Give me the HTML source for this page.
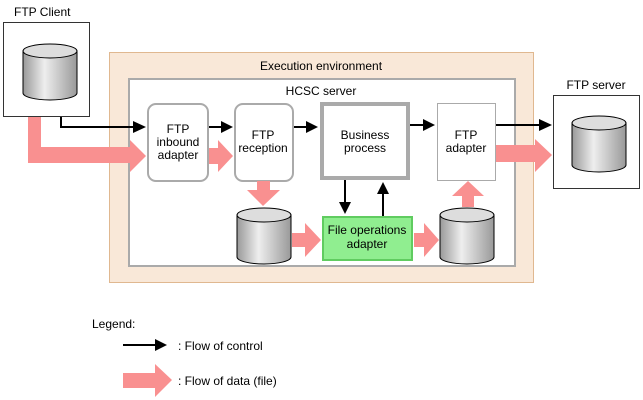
<!DOCTYPE html>
<html><head><meta charset="utf-8"><style>
html,body{margin:0;padding:0;background:#fff;}
svg{display:block;font-family:"Liberation Sans",sans-serif;font-size:12px;}
</style></head><body>
<svg width="643" height="400" viewBox="0 0 643 400" xmlns="http://www.w3.org/2000/svg">
<defs>
<linearGradient id="cg" x1="0" x2="1" y1="0" y2="0">
<stop offset="0" stop-color="#999"/><stop offset="0.4" stop-color="#eee"/><stop offset="1" stop-color="#999"/>
</linearGradient>
<g id="cyl">
<path d="M0,8 L0,50 A27,7 0 0 0 54,50 L54,8 Z" fill="url(#cg)" stroke="#000" stroke-width="1"/>
<ellipse cx="27" cy="8" rx="27" ry="7" fill="#ddd" stroke="#000" stroke-width="1"/>
</g>
</defs>
<!-- FTP client -->
<text x="14" y="16">FTP Client</text>
<rect x="3.5" y="22.5" width="86" height="94" fill="#fff" stroke="#333"/>
<use href="#cyl" x="23" y="43"/>
<!-- exec env -->
<rect x="109.5" y="52.5" width="424" height="230" fill="#f9e8d8" stroke="#e0b890"/>
<text x="321" y="70" text-anchor="middle">Execution environment</text>
<rect x="129" y="79" width="386" height="187" fill="#fff" stroke="#aaa" stroke-width="2"/>
<text x="321" y="95" text-anchor="middle">HCSC server</text>
<!-- boxes -->
<rect x="148" y="104" width="60" height="77" rx="8" fill="#fff" stroke="#aaa" stroke-width="2"/>
<text x="178" y="133" text-anchor="middle">FTP</text>
<text x="178" y="146" text-anchor="middle">inbound</text>
<text x="178" y="159" text-anchor="middle">adapter</text>
<rect x="235" y="104" width="58" height="77" rx="8" fill="#fff" stroke="#aaa" stroke-width="2"/>
<text x="263" y="139" text-anchor="middle">FTP</text>
<text x="263" y="152" text-anchor="middle">reception</text>
<rect x="322" y="104" width="86" height="74" fill="#fff" stroke="#aaa" stroke-width="4"/>
<text x="365" y="139" text-anchor="middle">Business</text>
<text x="365" y="152" text-anchor="middle">process</text>
<rect x="437.5" y="103.5" width="58" height="77" fill="#fff" stroke="#aaa"/>
<text x="466" y="139" text-anchor="middle">FTP</text>
<text x="466" y="152" text-anchor="middle">adapter</text>
<rect x="323" y="217" width="89" height="43" fill="#90ee90" stroke="#60cc60" stroke-width="2"/>
<text x="367" y="234" text-anchor="middle">File operations</text>
<text x="367" y="248" text-anchor="middle">adapter</text>
<use href="#cyl" x="237" y="207"/>
<use href="#cyl" x="440" y="207"/>
<!-- FTP server -->
<text x="596" y="89" text-anchor="middle">FTP server</text>
<rect x="553.5" y="95.5" width="86" height="93" fill="#fff" stroke="#333"/>
<use href="#cyl" x="572" y="115"/>
<!-- pink data arrows -->
<g fill="#f99090">
<path d="M28,117 L41,117 L41,147 L130,147 L130,140 L146,156 L130,172 L130,163 L28,163 Z"/>
<path d="M209,148 L218,148 L218,140 L233,156 L218,172 L218,164 L209,164 Z"/>
<path d="M257,181 L270,181 L270,190 L280,190 L263,206 L247,190 L257,190 Z"/>
<path d="M292,233 L305,233 L305,223 L321,240 L305,257 L305,247 L292,247 Z"/>
<path d="M414,233 L424,233 L424,223 L439,240 L424,257 L424,247 L414,247 Z"/>
<path d="M462,207 L474,207 L474,196 L484,196 L468,181 L452,196 L462,196 Z"/>
<path d="M496,145 L535,145 L535,139 L552,155 L535,172 L535,162 L496,162 Z"/>
<path d="M123,373 L155,373 L155,364 L172,380 L155,397 L155,388 L123,388 Z"/>
</g>
<!-- black control arrows -->
<g stroke="#000" stroke-width="2" fill="none">
<path d="M61,117 L61,127 L135,127"/>
<path d="M209,127 L223,127"/>
<path d="M294,127 L308,127"/>
<path d="M410,125 L425,125"/>
<path d="M496,125 L541,125"/>
<path d="M345,180 L345,204"/>
<path d="M383,216 L383,192"/>
<path d="M123,345 L157,345"/>
</g>
<g fill="#000">
<path d="M133,121 L146,127 L133,133 Z"/>
<path d="M221,121 L233,127 L221,133 Z"/>
<path d="M306,121 L318,127 L306,133 Z"/>
<path d="M423,119 L435,125 L423,131 Z"/>
<path d="M539,119 L552,125 L539,131 Z"/>
<path d="M339,202 L345,214 L351,202 Z"/>
<path d="M377,194 L383,182 L389,194 Z"/>
<path d="M155,339 L167,345 L155,351 Z"/>
</g>
<!-- legend -->
<text x="92" y="328">Legend:</text>
<text x="178" y="350">: Flow of control</text>
<text x="178" y="385">: Flow of data (file)</text>
</svg>
</body></html>
